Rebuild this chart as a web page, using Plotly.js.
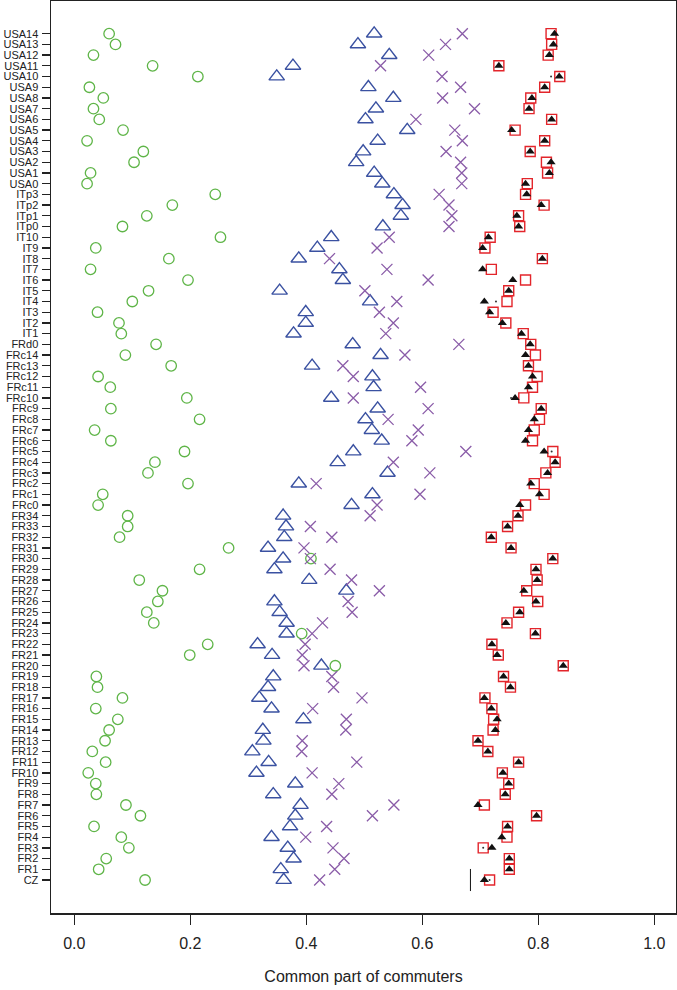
<!DOCTYPE html>
<html>
<head>
<meta charset="utf-8">
<script src="https://cdn.plot.ly/plotly-3.0.1.min.js"></script>
<style>
  html, body { margin: 0; padding: 0; background: #fff; }
  #chart { width: 677px; height: 990px; }
</style>
</head>
<body>
<div id="chart"></div>
<script>
// categories listed top to bottom
var labels = ['USA14','USA13','USA12','USA11','USA10','USA9','USA8','USA7','USA6','USA5',
  'USA4','USA3','USA2','USA1','USA0','ITp3','ITp2','ITp1','ITp0','IT10',
  'IT9','IT8','IT7','IT6','IT5','IT4','IT3','IT2','IT1','FRd0',
  'FRc14','FRc13','FRc12','FRc11','FRc10','FRc9','FRc8','FRc7','FRc6','FRc5',
  'FRc4','FRc3','FRc2','FRc1','FRc0','FR34','FR33','FR32','FR31','FR30',
  'FR29','FR28','FR27','FR26','FR25','FR24','FR23','FR22','FR21','FR20',
  'FR19','FR18','FR17','FR16','FR15','FR14','FR13','FR12','FR11','FR10',
  'FR9','FR8','FR7','FR6','FR5','FR4','FR3','FR2','FR1','CZ'];

var greenVals = [0.060,0.071,0.033,0.135,0.213,0.026,0.050,0.033,0.043,0.084,
  0.022,0.119,0.103,0.028,0.022,0.243,0.169,0.125,0.083,0.252,
  0.037,0.163,0.028,0.196,0.128,0.100,0.040,0.077,0.081,0.141,
  0.088,0.167,0.041,0.062,0.194,0.063,0.216,0.035,0.063,0.190,
  0.139,0.127,0.196,0.049,0.041,0.092,0.092,0.078,0.266,0.408,
  0.216,0.112,0.152,0.144,0.125,0.137,0.392,0.230,0.199,0.450,
  0.038,0.040,0.083,0.037,0.075,0.060,0.053,0.031,0.054,0.024,
  0.037,0.038,0.089,0.114,0.034,0.081,0.094,0.055,0.042,0.122];

var blueVals = [0.517,0.489,0.543,0.377,0.349,0.507,0.550,0.520,0.502,0.574,
  0.523,0.498,0.486,0.517,0.531,0.551,0.566,0.563,0.532,0.443,
  0.419,0.387,0.457,0.463,0.354,0.510,0.399,0.399,0.378,0.480,
  0.528,0.410,0.514,0.516,0.443,0.523,0.502,0.513,0.530,0.481,
  0.454,0.540,0.387,0.514,0.478,0.360,0.365,0.362,0.334,0.360,
  0.345,0.405,0.469,0.345,0.354,0.366,0.366,0.316,0.341,0.426,
  0.343,0.334,0.319,0.340,0.395,0.325,0.326,0.307,0.335,0.314,
  0.381,0.343,0.390,0.381,0.372,0.340,0.368,0.378,0.356,0.361];

var purpleVals = [0.669,0.640,0.611,0.528,0.634,0.666,0.635,0.690,0.589,0.656,
  0.669,0.641,0.666,0.668,0.668,0.629,0.646,0.651,0.646,0.543,
  0.522,0.440,0.539,0.610,0.501,0.556,0.526,0.550,0.537,0.663,
  0.570,0.463,0.481,0.597,0.481,0.610,0.541,0.593,0.582,0.675,
  0.550,0.613,0.417,0.596,0.522,0.510,0.407,0.444,0.396,0.407,
  0.441,0.478,0.526,0.472,0.479,0.428,0.410,0.398,0.393,0.396,
  0.444,0.447,0.496,0.411,0.469,0.468,0.393,0.392,0.487,0.410,
  0.456,0.444,0.551,0.514,0.435,0.399,0.446,0.465,0.449,0.423];

var redVals = [0.822,0.823,0.817,0.732,0.837,0.811,0.787,0.784,0.823,0.760,
  0.811,0.786,0.814,0.816,0.781,0.778,0.810,0.766,0.768,0.717,
  0.708,0.807,0.719,0.778,0.749,0.746,0.722,0.744,0.774,0.787,
  0.795,0.783,0.798,0.790,0.775,0.805,0.802,0.793,0.790,0.825,
  0.829,0.813,0.793,0.810,0.778,0.765,0.747,0.719,0.753,0.825,
  0.796,0.798,0.780,0.799,0.766,0.746,0.795,0.720,0.731,0.843,
  0.740,0.752,0.708,0.720,0.723,0.722,0.696,0.713,0.766,0.738,
  0.749,0.743,0.707,0.797,0.747,0.746,0.705,0.750,0.750,0.716];

var blackVals = [0.828,0.826,0.819,0.732,0.836,0.811,0.789,0.784,0.823,0.754,
  0.811,0.786,0.822,0.819,0.778,0.780,0.805,0.763,0.766,0.714,
  0.704,0.807,0.704,0.756,0.749,0.707,0.716,0.738,0.771,0.786,
  0.778,0.783,0.790,0.783,0.760,0.805,0.793,0.783,0.778,0.810,
  0.829,0.816,0.787,0.802,0.768,0.765,0.747,0.719,0.753,0.825,
  0.796,0.798,0.775,0.796,0.768,0.744,0.795,0.720,0.729,0.843,
  0.740,0.752,0.707,0.719,0.729,0.726,0.696,0.713,0.766,0.739,
  0.749,0.743,0.696,0.797,0.747,0.737,0.720,0.750,0.750,0.707];

// tiny stray dots next to a few rows
var dotLabels = ['USA10','IT4','FRc10','FRc5','FR3','CZ'];
var dotVals = [0.822,0.727,0.753,0.823,0.705,0.716];

// short vertical reference bar at the CZ row
var czBarX = [0.683, 0.683];
var czBarOffset = [-1.03, 1.03];

var n = labels.length;
function rowPos(lab) { return n - labels.indexOf(lab); }
var yPos = labels.map(rowPos);

function series(vals, symbol, size, color, lineW, fill) {
  return {
    x: vals, y: yPos, type: 'scatter', mode: 'markers', hoverinfo: 'x',
    marker: {
      symbol: symbol, size: size, color: fill || color,
      line: {color: color, width: lineW}
    }
  };
}

var data = [
  series(greenVals, 'circle-open', 10.5, '#5fb548', 1.3),
  series(blueVals, 'triangle-up-open', 13.5, '#3a51a1', 1.4),
  series(purpleVals, 'x-thin-open', 11, '#8a5ca8', 1.3),
  series(redVals, 'square-open', 10, '#e3252b', 1.4),
  series(blackVals, 'triangle-up', 8, '#111111', 0),
  {
    x: dotVals, y: dotLabels.map(rowPos), type: 'scatter', mode: 'markers',
    marker: {size: 2, color: '#333'}, hoverinfo: 'x'
  },
  {
    x: czBarX, y: czBarOffset.map(function (d) { return rowPos('CZ') + d; }),
    type: 'scatter', mode: 'lines', line: {color: '#111', width: 1}, hoverinfo: 'skip'
  }
];

var layout = {
  width: 677, height: 990,
  margin: {l: 51, r: 1, t: 1, b: 77},
  paper_bgcolor: '#fff', plot_bgcolor: '#fff',
  showlegend: false,
  font: {family: 'Liberation Sans, Arial, sans-serif', color: '#222'},
  xaxis: {
    range: [-0.0402, 1.0374],
    tickvals: [0, 0.2, 0.4, 0.6, 0.8, 1.0],
    ticktext: ['0.0', '0.2', '0.4', '0.6', '0.8', '1.0'],
    ticks: 'outside', ticklen: 10, tickwidth: 1.3, tickcolor: '#222',
    ticklabelstandoff: 5,
    tickfont: {size: 16, color: '#222'},
    showgrid: false, zeroline: false,
    showline: true, mirror: true, linecolor: '#222', linewidth: 1.5,
    title: {text: 'Common part of commuters', font: {size: 16, color: '#222'}, standoff: 20}
  },
  yaxis: {
    range: [-2.08, 83.05],
    tickvals: yPos, ticktext: labels,
    ticks: 'outside', ticklen: 8, tickwidth: 1.3, tickcolor: '#222',
    ticklabelstandoff: 1,
    tickfont: {size: 11, color: '#222'},
    showgrid: false, zeroline: false,
    showline: true, mirror: true, linecolor: '#222', linewidth: 1.5
  }
};

Plotly.newPlot('chart', data, layout, {displayModeBar: false, staticPlot: true});
</script>
</body>
</html>
